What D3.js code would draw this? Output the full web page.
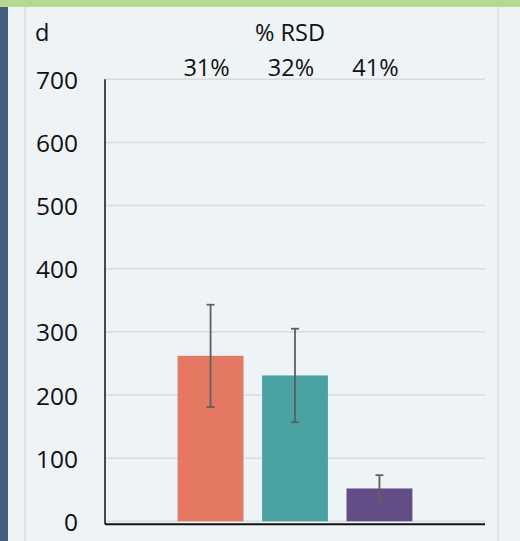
<!DOCTYPE html>
<html>
<head>
<meta charset="utf-8">
<script src="https://cdn.jsdelivr.net/npm/d3@7"></script>
<style>
  html, body { margin: 0; padding: 0; background: #eef3f6; }
  svg { display: block; }
  text { font-family: "Open Sans", "DejaVu Sans", sans-serif; fill: #111; }
</style>
</head>
<body>
<svg id="chart" width="520" height="541"></svg>
<script>
// Sample groups, mean values, standard deviations and relative SD labels
const categories = ["A", "B", "C"];
const means = [262, 231, 52];
const sds = [81, 74, 21];
const rsdLabels = ["31%", "32%", "41%"];
const barColors = ["#e47862", "#4aa3a2", "#634d87"];
const yTicks = [0, 100, 200, 300, 400, 500, 600, 700];

const W = 520, H = 541;
const svg = d3.select("#chart");

// panel decoration
svg.append("rect").attr("x", 0).attr("y", 0).attr("width", W).attr("height", H).attr("fill", "#eef3f6");
svg.append("rect").attr("x", 0).attr("y", 0).attr("width", W).attr("height", 7).attr("fill", "#b5d98f");
svg.append("rect").attr("x", 0).attr("y", 7).attr("width", 8).attr("height", H - 7).attr("fill", "#44607e");
svg.append("line").attr("x1", 25).attr("x2", 25).attr("y1", 7).attr("y2", H)
  .attr("stroke", "#d8dcde").attr("stroke-width", 1.5);
svg.append("line").attr("x1", 498).attr("x2", 498).attr("y1", 7).attr("y2", H)
  .attr("stroke", "#d8dcde").attr("stroke-width", 1.5);

const plotLeft = 105, plotRight = 485, plotTop = 79.3, plotBottom = 521.3;

const y = d3.scaleLinear().domain([0, 700]).range([plotBottom, plotTop]);
const x = d3.scaleBand().domain(categories).range([plotLeft, plotRight])
  .paddingInner(0.22).paddingOuter(0.86);

// gridlines
svg.append("g").selectAll("line").data(yTicks).join("line")
  .attr("x1", plotLeft).attr("x2", plotRight)
  .attr("y1", d => y(d)).attr("y2", d => y(d))
  .attr("stroke", "#d9dcdd").attr("stroke-width", 1.5);

// y tick labels
svg.append("g").selectAll("text").data(yTicks).join("text")
  .attr("x", 78).attr("y", d => y(d))
  .attr("text-anchor", "end").attr("dominant-baseline", "central")
  .attr("font-size", 24.5)
  .text(d => d);

// bars
svg.append("g").selectAll("rect").data(categories).join("rect")
  .attr("x", d => x(d)).attr("width", x.bandwidth())
  .attr("y", (d, i) => y(means[i]))
  .attr("height", (d, i) => y(0) - y(means[i]))
  .attr("fill", (d, i) => barColors[i]);

// error bars
const eb = svg.append("g").attr("stroke", "#5f5f5f").attr("stroke-width", 1.8);
categories.forEach((c, i) => {
  const cx = x(c) + x.bandwidth() / 2;
  const hi = y(means[i] + sds[i]), lo = y(means[i] - sds[i]);
  eb.append("line").attr("x1", cx).attr("x2", cx).attr("y1", hi).attr("y2", lo);
  eb.append("line").attr("x1", cx - 4).attr("x2", cx + 4).attr("y1", hi).attr("y2", hi);
  eb.append("line").attr("x1", cx - 4).attr("x2", cx + 4).attr("y1", lo).attr("y2", lo);
});

// axis lines
svg.append("line").attr("x1", plotLeft).attr("x2", plotLeft).attr("y1", plotTop).attr("y2", plotBottom + 3)
  .attr("stroke", "#111").attr("stroke-width", 1.5);
svg.append("line").attr("x1", plotLeft).attr("x2", plotRight).attr("y1", plotBottom + 3).attr("y2", plotBottom + 3)
  .attr("stroke", "#111").attr("stroke-width", 2);

// RSD annotations
svg.append("text").attr("x", 290).attr("y", 40.5).attr("text-anchor", "middle")
  .attr("font-size", 23.5).text("% RSD");
svg.append("g").selectAll("text").data(categories).join("text")
  .attr("x", d => x(d) + x.bandwidth() / 2 - 4).attr("y", 75.5)
  .attr("text-anchor", "middle").attr("font-size", 23.5)
  .text((d, i) => rsdLabels[i]);

// panel letter
svg.append("text").attr("x", 35).attr("y", 40.5).attr("font-size", 23.5).text("d");
</script>
</body>
</html>
